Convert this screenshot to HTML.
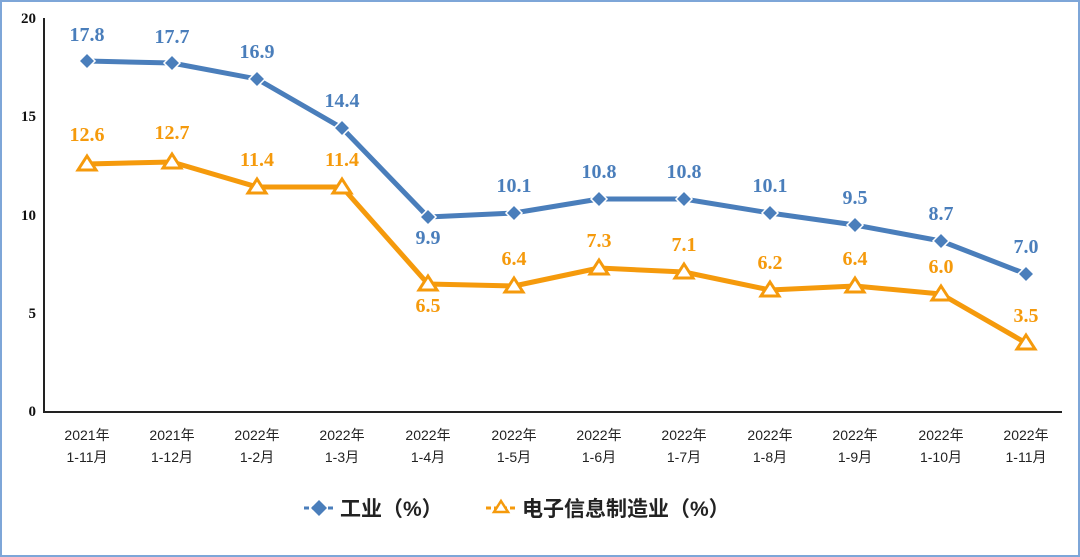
<!DOCTYPE html><html><head><meta charset="utf-8"><style>body{margin:0;background:#fff}svg{display:block}</style></head><body>
<svg width="1080" height="557" xmlns="http://www.w3.org/2000/svg" font-family="Liberation Serif, Noto Serif CJK SC, serif">
<rect x="1" y="1" width="1078" height="555" fill="#fff" stroke="#7ea6d8" stroke-width="2"/>
<line x1="44" y1="18" x2="44" y2="412" stroke="#222" stroke-width="2"/>
<line x1="43" y1="412" x2="1062" y2="412" stroke="#222" stroke-width="2"/>
<g font-size="15" font-weight="bold" text-anchor="end" fill="#111">
<text x="36" y="23">20</text><text x="36" y="121">15</text><text x="36" y="220">10</text><text x="36" y="318">5</text><text x="36" y="416">0</text></g>
<g font-family="Liberation Sans, Noto Sans CJK SC, sans-serif" font-size="14" fill="#222" text-anchor="middle">
<text x="87" y="440">2021年</text><text x="87" y="462">1-11月</text>
<text x="172" y="440">2021年</text><text x="172" y="462">1-12月</text>
<text x="257" y="440">2022年</text><text x="257" y="462">1-2月</text>
<text x="342" y="440">2022年</text><text x="342" y="462">1-3月</text>
<text x="428" y="440">2022年</text><text x="428" y="462">1-4月</text>
<text x="514" y="440">2022年</text><text x="514" y="462">1-5月</text>
<text x="599" y="440">2022年</text><text x="599" y="462">1-6月</text>
<text x="684" y="440">2022年</text><text x="684" y="462">1-7月</text>
<text x="770" y="440">2022年</text><text x="770" y="462">1-8月</text>
<text x="855" y="440">2022年</text><text x="855" y="462">1-9月</text>
<text x="941" y="440">2022年</text><text x="941" y="462">1-10月</text>
<text x="1026" y="440">2022年</text><text x="1026" y="462">1-11月</text></g>
<polyline fill="none" stroke="#4a7ebb" stroke-width="5" stroke-linejoin="round" points="87,61 172,63 257,79 342,128 428,217 514,213 599,199 684,199 770,213 855,225 941,241 1026,274"/>
<g fill="#4a7ebb" stroke="#fff" stroke-width="1.5">
<path d="M87,53l8,8l-8,8l-8,-8z"/><path d="M172,55l8,8l-8,8l-8,-8z"/><path d="M257,71l8,8l-8,8l-8,-8z"/><path d="M342,120l8,8l-8,8l-8,-8z"/><path d="M428,209l8,8l-8,8l-8,-8z"/><path d="M514,205l8,8l-8,8l-8,-8z"/><path d="M599,191l8,8l-8,8l-8,-8z"/><path d="M684,191l8,8l-8,8l-8,-8z"/><path d="M770,205l8,8l-8,8l-8,-8z"/><path d="M855,217l8,8l-8,8l-8,-8z"/><path d="M941,233l8,8l-8,8l-8,-8z"/><path d="M1026,266l8,8l-8,8l-8,-8z"/></g>
<polyline fill="none" stroke="#f59a0c" stroke-width="5" stroke-linejoin="round" points="87,164 172,162 257,187 342,187 428,284 514,286 599,268 684,272 770,290 855,286 941,294 1026,343"/>
<g fill="#fff" stroke="#f59a0c" stroke-width="3">
<path d="M87,156l9,14h-18z"/><path d="M172,154l9,14h-18z"/><path d="M257,179l9,14h-18z"/><path d="M342,179l9,14h-18z"/><path d="M428,276l9,14h-18z"/><path d="M514,278l9,14h-18z"/><path d="M599,260l9,14h-18z"/><path d="M684,264l9,14h-18z"/><path d="M770,282l9,14h-18z"/><path d="M855,278l9,14h-18z"/><path d="M941,286l9,14h-18z"/><path d="M1026,335l9,14h-18z"/></g>
<g font-size="20" font-weight="bold" fill="#4a7ebb" text-anchor="middle">
<text x="87" y="41">17.8</text><text x="172" y="43">17.7</text><text x="257" y="58">16.9</text><text x="342" y="107">14.4</text><text x="428" y="244">9.9</text><text x="514" y="192">10.1</text><text x="599" y="178">10.8</text><text x="684" y="178">10.8</text><text x="770" y="192">10.1</text><text x="855" y="204">9.5</text><text x="941" y="220">8.7</text><text x="1026" y="253">7.0</text></g>
<g font-size="20" font-weight="bold" fill="#f59a0c" text-anchor="middle">
<text x="87" y="141">12.6</text><text x="172" y="139">12.7</text><text x="257" y="166">11.4</text><text x="342" y="166">11.4</text><text x="428" y="312">6.5</text><text x="514" y="265">6.4</text><text x="599" y="247">7.3</text><text x="684" y="251">7.1</text><text x="770" y="269">6.2</text><text x="855" y="265">6.4</text><text x="941" y="273">6.0</text><text x="1026" y="322">3.5</text></g>
<g font-family="Liberation Sans, Noto Sans CJK SC, sans-serif" font-size="21" font-weight="bold" fill="#222">
<line x1="304" y1="508" x2="334" y2="508" stroke="#4a7ebb" stroke-width="3" stroke-dasharray="5,3"/>
<path d="M319,500l8,8l-8,8l-8,-8z" fill="#4a7ebb"/>
<text x="340" y="516">工业（%）</text>
<line x1="486" y1="508" x2="516" y2="508" stroke="#f59a0c" stroke-width="3" stroke-dasharray="5,3"/>
<path d="M501,501l7,11h-14z" fill="#fff" stroke="#f59a0c" stroke-width="2.5"/>
<text x="522" y="516">电子信息制造业（%）</text></g>
</svg></body></html>
